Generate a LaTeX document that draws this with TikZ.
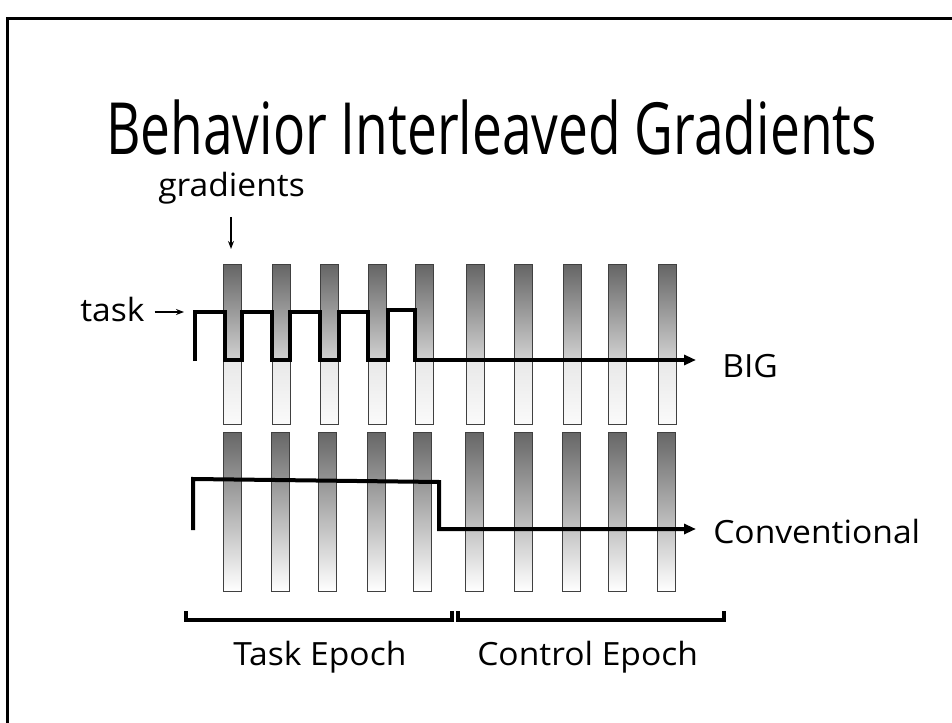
\documentclass[tikz,border=0pt]{standalone}
\usepackage{fontspec}
\setmainfont{Open Sans}[FakeStretch=1.05]
\newfontfamily\titlefont{Open Sans}[FakeStretch=0.74]
\usepackage{tikz}
\usetikzlibrary{positioning}
\usetikzlibrary{arrows.meta}
\tikzstyle{arrow} = [line width=1.1pt,-{Stealth[length=6pt,width=4.5pt]}]
\tikzstyle{trace} = [line width=3pt,line join=miter,-{Triangle[length=9pt,width=7.5pt]}]
\tikzstyle{slideText} = [inner sep=0pt,font=\fontsize{24}{28}\selectfont]
\tikzstyle{upperBar} = [draw=black!75,line width=0.75pt,top color=black!60,bottom color=black!18]
\tikzstyle{lowerBar} = [draw=black!75,line width=0.75pt,top color=black!9,bottom color=black!2]
\tikzstyle{fullBar} = [draw=black!75,line width=0.75pt,top color=black!60,bottom color=white]
\tikzstyle{bracket} = [line width=3pt]

\begin{document}
\begin{tikzpicture}[x=0.75pt,y=-0.75pt]
	\useasboundingbox (0,0) rectangle (952,723);
	%Frame
	\draw[line width=2.25pt] (7.5,723) -- (7.5,19) -- (952,19);
	
	%Coordinates
	\coordinate (gradTip) at (231,249);
	\coordinate (taskTip) at (184,312);
	\coordinate (bigStart) at (195,361);
	\coordinate (bigEnd) at (696,360);
	\coordinate (convStart) at (193,530);
	\coordinate (convEnd) at (696,529);
	
	%Nodes
	\node[slideText,anchor=base,text depth=0pt,font=\titlefont\fontsize{54}{58}\selectfont] (title) at (491.5,155) {Behavior Interleaved Gradients};
	\node[slideText,anchor=base west] (gradLabel) at (158,197) {gradients};
	\node[slideText,anchor=base west] (taskLabel) at (80,321) {task};
	\node[slideText,anchor=base west] (bigLabel) at (722,377) {BIG};
	\node[slideText,anchor=base west] (convLabel) at (713,543) {Conventional};
	\node[slideText,anchor=base west] (taskEpoch) at (233,665) {Task Epoch};
	\node[slideText,anchor=base west] (controlEpoch) at (477,665) {Control Epoch};
	
	%Bars BIG
	\draw[upperBar] (223,265) rectangle (241,360); \draw[lowerBar] (223,360) rectangle (241,424);
	\draw[upperBar] (272,265) rectangle (290,360); \draw[lowerBar] (272,360) rectangle (290,424);
	\draw[upperBar] (320,265) rectangle (338,360); \draw[lowerBar] (320,360) rectangle (338,424);
	\draw[upperBar] (368,265) rectangle (386,360); \draw[lowerBar] (368,360) rectangle (386,424);
	\draw[upperBar] (415,265) rectangle (433,360); \draw[lowerBar] (415,360) rectangle (433,424);
	\draw[upperBar] (466,265) rectangle (484,360); \draw[lowerBar] (466,360) rectangle (484,424);
	\draw[upperBar] (514,265) rectangle (532,360); \draw[lowerBar] (514,360) rectangle (532,424);
	\draw[upperBar] (563,265) rectangle (581,360); \draw[lowerBar] (563,360) rectangle (581,424);
	\draw[upperBar] (608,265) rectangle (626,360); \draw[lowerBar] (608,360) rectangle (626,424);
	\draw[upperBar] (658,265) rectangle (676,360); \draw[lowerBar] (658,360) rectangle (676,424);
	
	%Bars Conventional
	\draw[fullBar] (223,432) rectangle (241,591);
	\draw[fullBar] (271,432) rectangle (289,591);
	\draw[fullBar] (318,432) rectangle (336,591);
	\draw[fullBar] (367,432) rectangle (385,591);
	\draw[fullBar] (413,432) rectangle (431,591);
	\draw[fullBar] (465,432) rectangle (483,591);
	\draw[fullBar] (514,432) rectangle (532,591);
	\draw[fullBar] (562,432) rectangle (580,591);
	\draw[fullBar] (608,432) rectangle (626,591);
	\draw[fullBar] (657,432) rectangle (675,591);
	
	%Traces
	\draw[trace] (bigStart) |- (224.5,312) |- (241.5,360) |- (271.7,312) |- (290,360) |- (320,312) |- (338.5,360) |- (368.3,312) |- (388.3,360) |- (415,310) |- (bigEnd);
	\draw[trace] (convStart) -- (193,479) -- (439,482) -- (439,529) -- (convEnd);
	
	%Braces
	\draw[bracket] (185.5,611) -- (185.5,620) -- (451.5,620) -- (451.5,611);
	\draw[bracket] (458,611) -- (458,620) -- (724,620) -- (724,611);
	
	%Arrows
	\draw[arrow,shorten <=9pt] (gradTip |- gradLabel.south) -- (gradTip);
	\draw[arrow,shorten <=7.5pt] (taskLabel.east |- taskTip) -- (taskTip);
\end{tikzpicture}
\end{document}
